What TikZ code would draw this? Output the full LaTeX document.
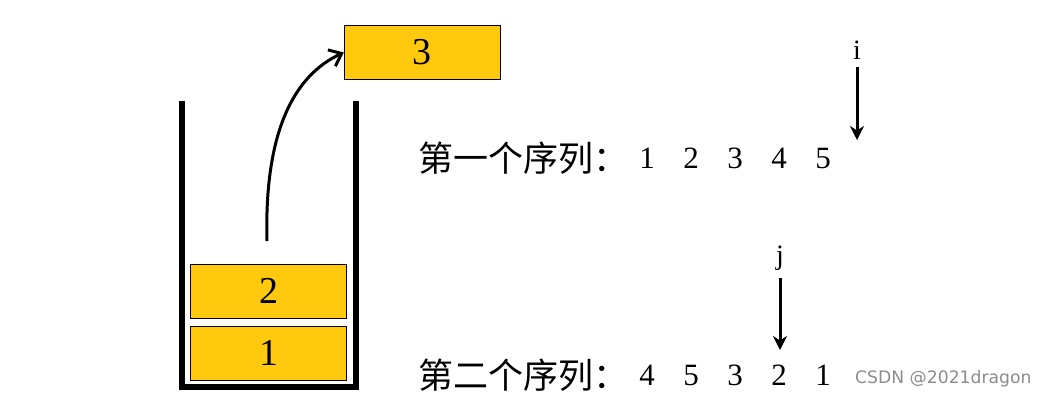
\documentclass[tikz,border=0pt]{standalone}
\usepackage{fontspec}
\setmainfont{Liberation Serif}
\newfontfamily\cjk{Noto Sans CJK SC}
\newfontfamily\marksans{DejaVu Sans}
\usetikzlibrary{arrows.meta}
\definecolor{cellgold}{RGB}{255,201,14}
\tikzset{
    cell/.style={draw=black, fill=cellgold, minimum width=156pt, minimum height=54pt,
        inner sep=0pt, font=\fontsize{38}{38}\selectfont},
    seqlabel/.style={anchor=west, inner sep=0pt, font=\cjk\fontsize{35}{35}\selectfont},
    seqnum/.style={inner sep=0pt, font=\fontsize{31}{31}\selectfont},
    ptr/.style={inner sep=0pt, font=\fontsize{28}{28}\selectfont},
}
\begin{document}
\begin{tikzpicture}[x=1pt, y=-1pt]
    \useasboundingbox (0,0) rectangle (1050,400);

    % The stack and its contents
    \begin{scope}
        \draw[line width=5.5pt] (182,101) -- (182,387) -- (356,387) -- (356,101);
        \node[cell] (c1) at (268.5,353) {1};
        \node[cell] (c2) at (268.5,291) {2};
        \node[cell] (c3) at (422,52.5) {3};
        % Pop of the top element
        \coordinate (pop) at (267,241);
        \draw[line width=3pt, -{Straight Barb[length=11pt, width=18pt]}]
            (pop) .. controls (264,130) and (295,75) .. (c3.west);
    \end{scope}

    % First sequence with pointer i
    \begin{scope}
        \node[seqlabel] (s1) at (418,158) {第一个序列：};
        \foreach \d [count=\k] in {1,2,3,4,5}
            \node[seqnum] (a\k) at ({647+44*(\k-1)},158) {\d};
        \node[ptr] (i) at (857,50) {i};
        \coordinate (iend) at (857,140);
        \draw[line width=3pt, -{Stealth[length=14pt, width=14pt]}] (i.south) ++(0,8) -- (iend);
    \end{scope}

    % Second sequence with pointer j
    \begin{scope}
        \node[seqlabel] (s2) at (418,375) {第二个序列：};
        \foreach \d [count=\k] in {4,5,3,2,1}
            \node[seqnum] (b\k) at ({647+44*(\k-1)},375) {\d};
        \node[ptr] (j) at (780,258) {j};
        \coordinate (jend) at (780,350);
        \draw[line width=3pt, -{Stealth[length=14pt, width=14pt]}] (j.south) ++(0,8) -- (jend);
    \end{scope}

    \node[anchor=west, inner sep=0pt, text=black!45, font=\marksans\fontsize{17.2}{17.2}\selectfont]
        (mark) at (855,379) {CSDN @2021dragon};

\end{tikzpicture}
\end{document}
